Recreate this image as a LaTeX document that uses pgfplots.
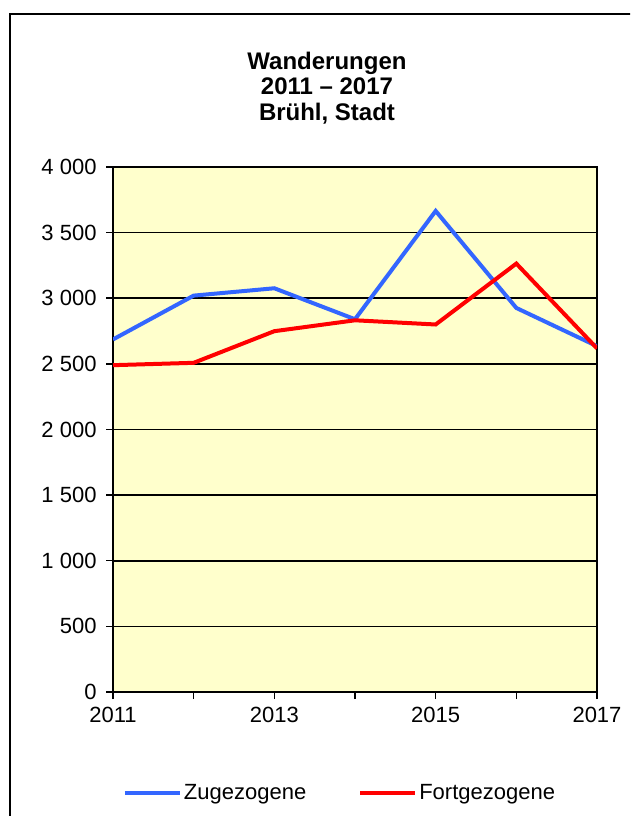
\documentclass[border=0pt]{standalone}
\usepackage{pgfplots}
\pgfplotsset{compat=1.18}
\usepackage{fontspec}
\setmainfont{Liberation Sans}
\definecolor{bgyellow}{RGB}{255,255,204}
\definecolor{zublue}{RGB}{51,102,255}
\definecolor{fored}{RGB}{255,0,0}
\begin{document}
\begin{tikzpicture}
\useasboundingbox (0pt,0pt) rectangle (630pt,816pt);
\begin{scope}
\clip (0pt,0pt) rectangle (630pt,816pt);
\draw[line width=2pt] (10pt,802pt) rectangle (644pt,-20pt);
\end{scope}
\node[align=center,font=\fontsize{24}{25.7}\selectfont\bfseries] at (327pt,728pt) {Wanderungen\\2011 – 2017\\Brühl, Stadt};
\begin{axis}[
  at={(113pt,124pt)}, anchor=south west,
  scale only axis, width=484pt, height=525pt,
  xmin=2011, xmax=2017, ymin=0, ymax=4000,
  xtick={2011,2012,2013,2014,2015,2016,2017},
  xticklabels={2011,,2013,,2015,,2017},
  ytick={0,500,1000,1500,2000,2500,3000,3500,4000},
  yticklabels={0,500,1 000,1 500,2 000,2 500,3 000,3 500,4 000},
  xtick pos=bottom, ytick pos=left,
  tick align=outside, major tick length=7pt,
  tick style={black, line width=1.5pt},
  x tick label style={font=\fontsize{22}{24}\selectfont, yshift=-5pt},
  y tick label style={font=\fontsize{22}{24}\selectfont, xshift=-6pt},
  axis line style={line width=2pt, black},
  ymajorgrids, grid style={black, line width=1.6pt},
  axis background/.style={fill=bgyellow},
  legend columns=2,
  legend style={at={(0.469,-0.192)}, anchor=center, draw=none, fill=none,
    font=\fontsize{22}{24}\selectfont, /tikz/every even column/.append style={column sep=50pt}},
  legend image code/.code={\draw[#1] (0pt,0pt) -- (55pt,0pt);},
]
\addplot[zublue, line width=4pt] coordinates {
(2011,2686) (2012,3020) (2013,3076) (2014,2840) (2015,3665) (2016,2926) (2017,2635)};
\addlegendentry{Zugezogene}
\addplot[fored, line width=4pt] coordinates {
(2011,2490) (2012,2508) (2013,2749) (2014,2832) (2015,2800) (2016,3264) (2017,2618)};
\addlegendentry{Fortgezogene}
\end{axis}
\end{tikzpicture}
\end{document}
